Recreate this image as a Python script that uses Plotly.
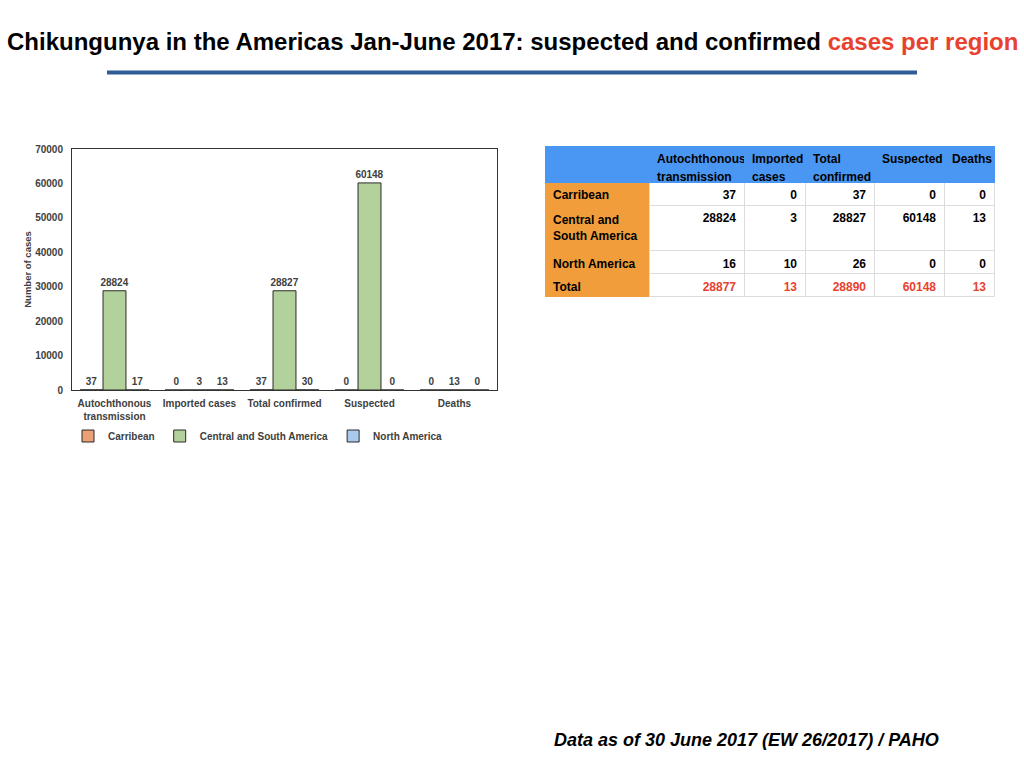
import plotly.graph_objects as go

# ---- chart data ----
categories = ["Autochthonous<br>transmission", "Imported cases", "Total confirmed", "Suspected", "Deaths"]
series_names = ["Carribean", "Central and South America", "North America"]
carribean = [37, 0, 37, 0, 0]
central_south = [28824, 3, 28827, 60148, 13]
north_america = [17, 13, 30, 0, 0]
series_colors = ["#EBA173", "#B3D29B", "#A9C9EC"]
y_ticks = [0, 10000, 20000, 30000, 40000, 50000, 60000, 70000]

# ---- table data ----
table_header_line1 = ["", "Autochthonous", "Imported", "Total", "Suspected", "Deaths"]
table_header_line2 = ["", "transmission", "cases", "confirmed", "", ""]
table_rows = ["Carribean", "Central and<br>South America", "North America", "Total"]
tbl_autochthonous = [37, 28824, 16, 28877]
tbl_imported = [0, 3, 10, 13]
tbl_total_confirmed = [37, 28827, 26, 28890]
tbl_suspected = [0, 60148, 0, 60148]
tbl_deaths = [0, 13, 0, 13]

W, H = 1024, 768
FONT = "Liberation Sans"


def px_x(x):
    return x / W


def px_y(y):
    return 1 - y / H


fig = go.Figure()
for name, vals, col in zip(series_names, [carribean, central_south, north_america], series_colors):
    fig.add_trace(go.Bar(
        name=name, x=categories, y=vals,
        marker=dict(color=col, line=dict(color="#2b2b2b", width=1)),
        text=vals, textposition="outside", cliponaxis=False, constraintext="none",
        textfont=dict(family=FONT, size=10, color="#404040", weight="bold"),
    ))

numcols = [tbl_autochthonous, tbl_imported, tbl_total_confirmed, tbl_suspected, tbl_deaths]
cell_values = [table_rows] + numcols
red = "#E8412E"
row_font_colors = ["#000000", "#000000", "#000000", red]
header_fill = "#4A97F3"
fig.add_trace(go.Table(
    domain=dict(x=[px_x(545), px_x(994)], y=[px_y(500), px_y(146)]),
    columnwidth=[104, 95, 61, 69, 70, 50],
    header=dict(
        values=[[a, b] for a, b in zip(table_header_line1, table_header_line2)],
        fill_color=header_fill,
        line=dict(color=header_fill, width=1),
        align="left",
        height=18,
        font=dict(family=FONT, size=12, color="#000000", weight="bold"),
    ),
    cells=dict(
        values=cell_values,
        fill_color=[["#F19D3B"] * 4] + [["#FFFFFF"] * 4] * 5,
        line=dict(color=["#F19D3B"] + ["#DCDCDC"] * 5, width=1),
        align=["left", "right", "right", "right", "right", "right"],
        height=23,
        font=dict(family=FONT, size=12, weight="bold",
                  color=[["#000000"] * 4] + [row_font_colors] * 5),
    ),
))

fig.update_layout(
    width=W, height=H,
    margin=dict(l=0, r=0, t=0, b=0, autoexpand=False),
    paper_bgcolor="white", plot_bgcolor="white",
    barmode="group", bargap=0.19, bargroupgap=0,
    font=dict(family=FONT, color="#404040"),
    showlegend=True,
    legend=dict(orientation="h", x=px_x(258), xanchor="center", y=px_y(436), yanchor="middle",
                font=dict(family=FONT, size=10, color="#404040", weight="bold"),
                itemwidth=30, bgcolor="rgba(0,0,0,0)"),
    xaxis=dict(domain=[px_x(72), px_x(497)], showline=True, mirror=True, linecolor="#333333",
               linewidth=1, ticks="", showgrid=False, ticklabelstandoff=4, automargin=False,
               tickfont=dict(family=FONT, size=10, color="#404040", weight="bold")),
    yaxis=dict(domain=[px_y(390), px_y(149)], range=[0, 70000], tickvals=y_ticks,
               tickformat="d", ticklabelstandoff=6, automargin=False,
               showline=True, mirror=True, linecolor="#333333", linewidth=1,
               showgrid=False, zeroline=False, ticks="",
               tickfont=dict(family=FONT, size=10, color="#404040", weight="bold"),
               title=dict(text="Number of cases", standoff=1,
                          font=dict(family=FONT, size=9.5, color="#404040", weight="bold"))),
)

# title
fig.add_annotation(
    xref="paper", yref="paper", x=0.5, y=px_y(41.5), xanchor="center", yanchor="middle",
    showarrow=False,
    text="Chikungunya in the Americas Jan-June 2017: suspected and confirmed "
         "<span style='color:#E8412E'>cases per region</span>",
    font=dict(family=FONT, size=24, color="#000000", weight="bold"),
)
# blue rule
fig.add_shape(type="line", xref="paper", yref="paper", x0=px_x(107), x1=px_x(917),
              y0=px_y(72.5), y1=px_y(72.5), line=dict(color="#2F5B97", width=4))
# footer
fig.add_annotation(
    xref="paper", yref="paper", x=px_x(941), y=px_y(740), xanchor="right", yanchor="middle",
    showarrow=False,
    text="<i>Data as of 30 June 2017 (EW 26/2017) / PAHO</i>",
    font=dict(family=FONT, size=18, color="#000000", weight="bold"),
)

fig.write_html("out.html", config={"displayModeBar": False},
               post_script="document.body.style.margin='0';")
